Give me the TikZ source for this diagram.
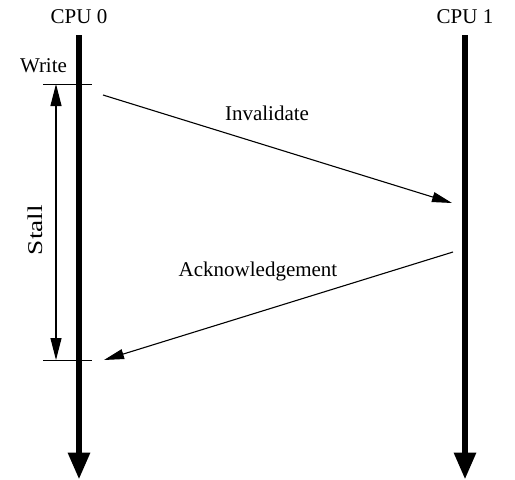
\documentclass[tikz,border=0pt]{standalone}
\usepackage{fontspec}
\setmainfont{Liberation Serif}
\usetikzlibrary{arrows.meta}

\tikzset{
  cpuline/.style={line width=6pt,-{Triangle[length=27pt,width=21pt]}},
  msg/.style={line width=1.1pt,-{Triangle[length=20pt,width=10pt]}},
  tick/.style={line width=1pt},
  lbl/.style={inner sep=0pt,anchor=base,font=\fontsize{21}{25}\selectfont}
}

\begin{document}
\begin{tikzpicture}[x=1pt,y=-1pt]
\useasboundingbox (0,0) rectangle (515,480);
%\draw [help lines,step=50] (0,0) grid (515,480);
% the two cpus
\coordinate (c0top) at (79,35);
\coordinate (c0bot) at (79,479.5);
\coordinate (c1top) at (465,35);
\coordinate (c1bot) at (465,479.5);
\draw [cpuline] (c0top)--(c0bot);
\draw [cpuline] (c1top)--(c1bot);
\node [lbl] (cpu0) at (79,23) {CPU 0};
\node [lbl] (cpu1) at (465,23) {CPU 1};
% write / stall
\node [lbl] (write) at (43.5,72) {Write};
\coordinate (t0a) at (43,84);
\coordinate (t0b) at (92,84);
\coordinate (t1a) at (43,360);
\coordinate (t1b) at (92,360);
\draw [tick] (t0a)--(t0b);
\draw [tick] (t1a)--(t1b);
\coordinate (s0) at (56,84);
\coordinate (s1) at (56,360);
\draw [line width=1.1pt,{Triangle[length=22pt,width=11pt]}-{Triangle[length=22pt,width=11pt]}] (s0)--(s1);
\node [inner sep=0pt,font=\fontsize{21}{25}\selectfont,rotate=90,xscale=1.3] (stall) at (35,230) {Stall};
% messages
\coordinate (inv0) at (103,95);
\coordinate (inv1) at (452,203);
\draw [msg] (inv0)--(inv1);
\node [lbl] (inv) at (267,120.5) {Invalidate};
\coordinate (ack0) at (453,252);
\coordinate (ack1) at (104,360);
\draw [msg] (ack0)--(ack1);
\node [lbl] (ack) at (258,276.5) {Acknowledgement};
\end{tikzpicture}
\end{document}
